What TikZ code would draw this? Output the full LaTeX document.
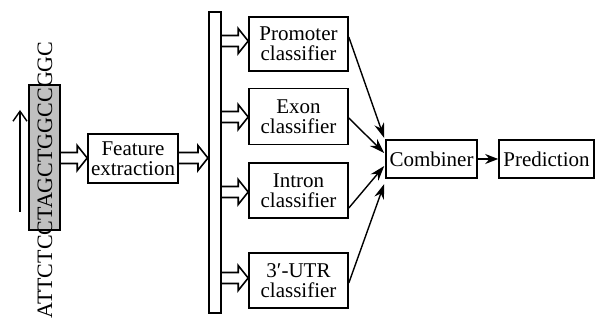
\documentclass[tikz,border=0pt]{standalone}
\usepackage{fontspec}
\setmainfont{Liberation Serif}
\usetikzlibrary{arrows.meta,calc}
\definecolor{seqgray}{RGB}{192,192,192}
\begin{document}
\begin{tikzpicture}[x=1pt,y=-1pt,line width=1.6pt,line join=miter,
  box/.style={draw,fill=white,inner sep=0pt,align=center,font=\fontsize{21}{20}\selectfont},
  cls/.style={box,minimum width=99pt},
  hollow/.style={to path={let \p1=(\tikztostart), \p2=(\tikztotarget) in
     (\x1,\y1+5.5pt) -- (\x2-10pt,\y1+5.5pt) -- (\x2-10pt,\y1+12.5pt) -- (\x2,\y1)
     -- (\x2-10pt,\y1-12.5pt) -- (\x2-10pt,\y1-5.5pt) -- (\x1,\y1-5.5pt)}},
  sarrow/.style={line width=1.4pt,-{Stealth[length=15pt,width=10pt]}}]
\useasboundingbox (0,0) rectangle (595,320);

% sequence
\node[draw,fill=seqgray,minimum width=31pt,minimum height=145pt,inner sep=0pt] (seqbox) at (44.5,157.5) {};
\node[rotate=90,inner sep=0pt,font=\fontsize{22}{22}\selectfont] (seq) at (45,180) {ATTCTCCTAGCTGGCCGGC};
\coordinate (upS) at (20,212);
\coordinate (upE) at (20,110);
\draw[line width=1.4pt,-{Straight Barb[length=10pt,width=14pt]}] (upS) -- (upE);

% feature extraction
\node[box,minimum width=90pt,minimum height=49pt] (feat) at (133,158.5) {Feature\\extraction};
\draw[hollow] (seqbox.east |- 0,158) to (feat.west |- 0,158);

% bar
\node[draw,minimum width=12.5pt,minimum height=301pt,inner sep=0pt] (bar) at (215,162.5) {};
\draw[hollow] (feat.east |- 0,158) to (bar.west |- 0,158);

% classifiers
\node[cls,minimum height=54pt] (pro) at (298.5,44) {Promoter\\classifier};
\node[cls,minimum height=56pt] (exo) at (298.5,116.5) {Exon\\classifier};
\node[cls,minimum height=55pt] (int) at (298.5,190.5) {Intron\\classifier};
\node[cls,minimum height=55pt] (utr) at (298.5,280.5) {3′-UTR\\classifier};

\draw[hollow] (bar.east |- 0,41) to (pro.west |- 0,41);
\draw[hollow] (bar.east |- 0,117) to (exo.west |- 0,117);
\draw[hollow] (bar.east |- 0,192) to (int.west |- 0,192);
\draw[hollow] (bar.east |- 0,278) to (utr.west |- 0,278);

% combiner and prediction
\node[box,minimum width=91pt,minimum height=38pt] (comb) at (431.5,159) {Combiner};
\node[box,minimum width=95pt,minimum height=38pt] (pred) at (546.5,159) {Prediction};

\draw[sarrow] ([yshift=7pt]pro.east) -- ([xshift=-1pt,yshift=21pt]comb.west);
\draw[sarrow] ([yshift=-1.5pt]exo.east) -- ([xshift=-1pt,yshift=6pt]comb.west);
\draw[sarrow] ([yshift=-17.5pt]int.east) -- ([xshift=-1pt,yshift=-7pt]comb.west);
\draw[sarrow] ([yshift=-2.5pt]utr.east) -- ([xshift=-1pt,yshift=-25pt]comb.west);
\draw[line width=1.4pt,-{Stealth[length=13pt,width=10pt]}] (comb) -- (pred);
\end{tikzpicture}
\end{document}
